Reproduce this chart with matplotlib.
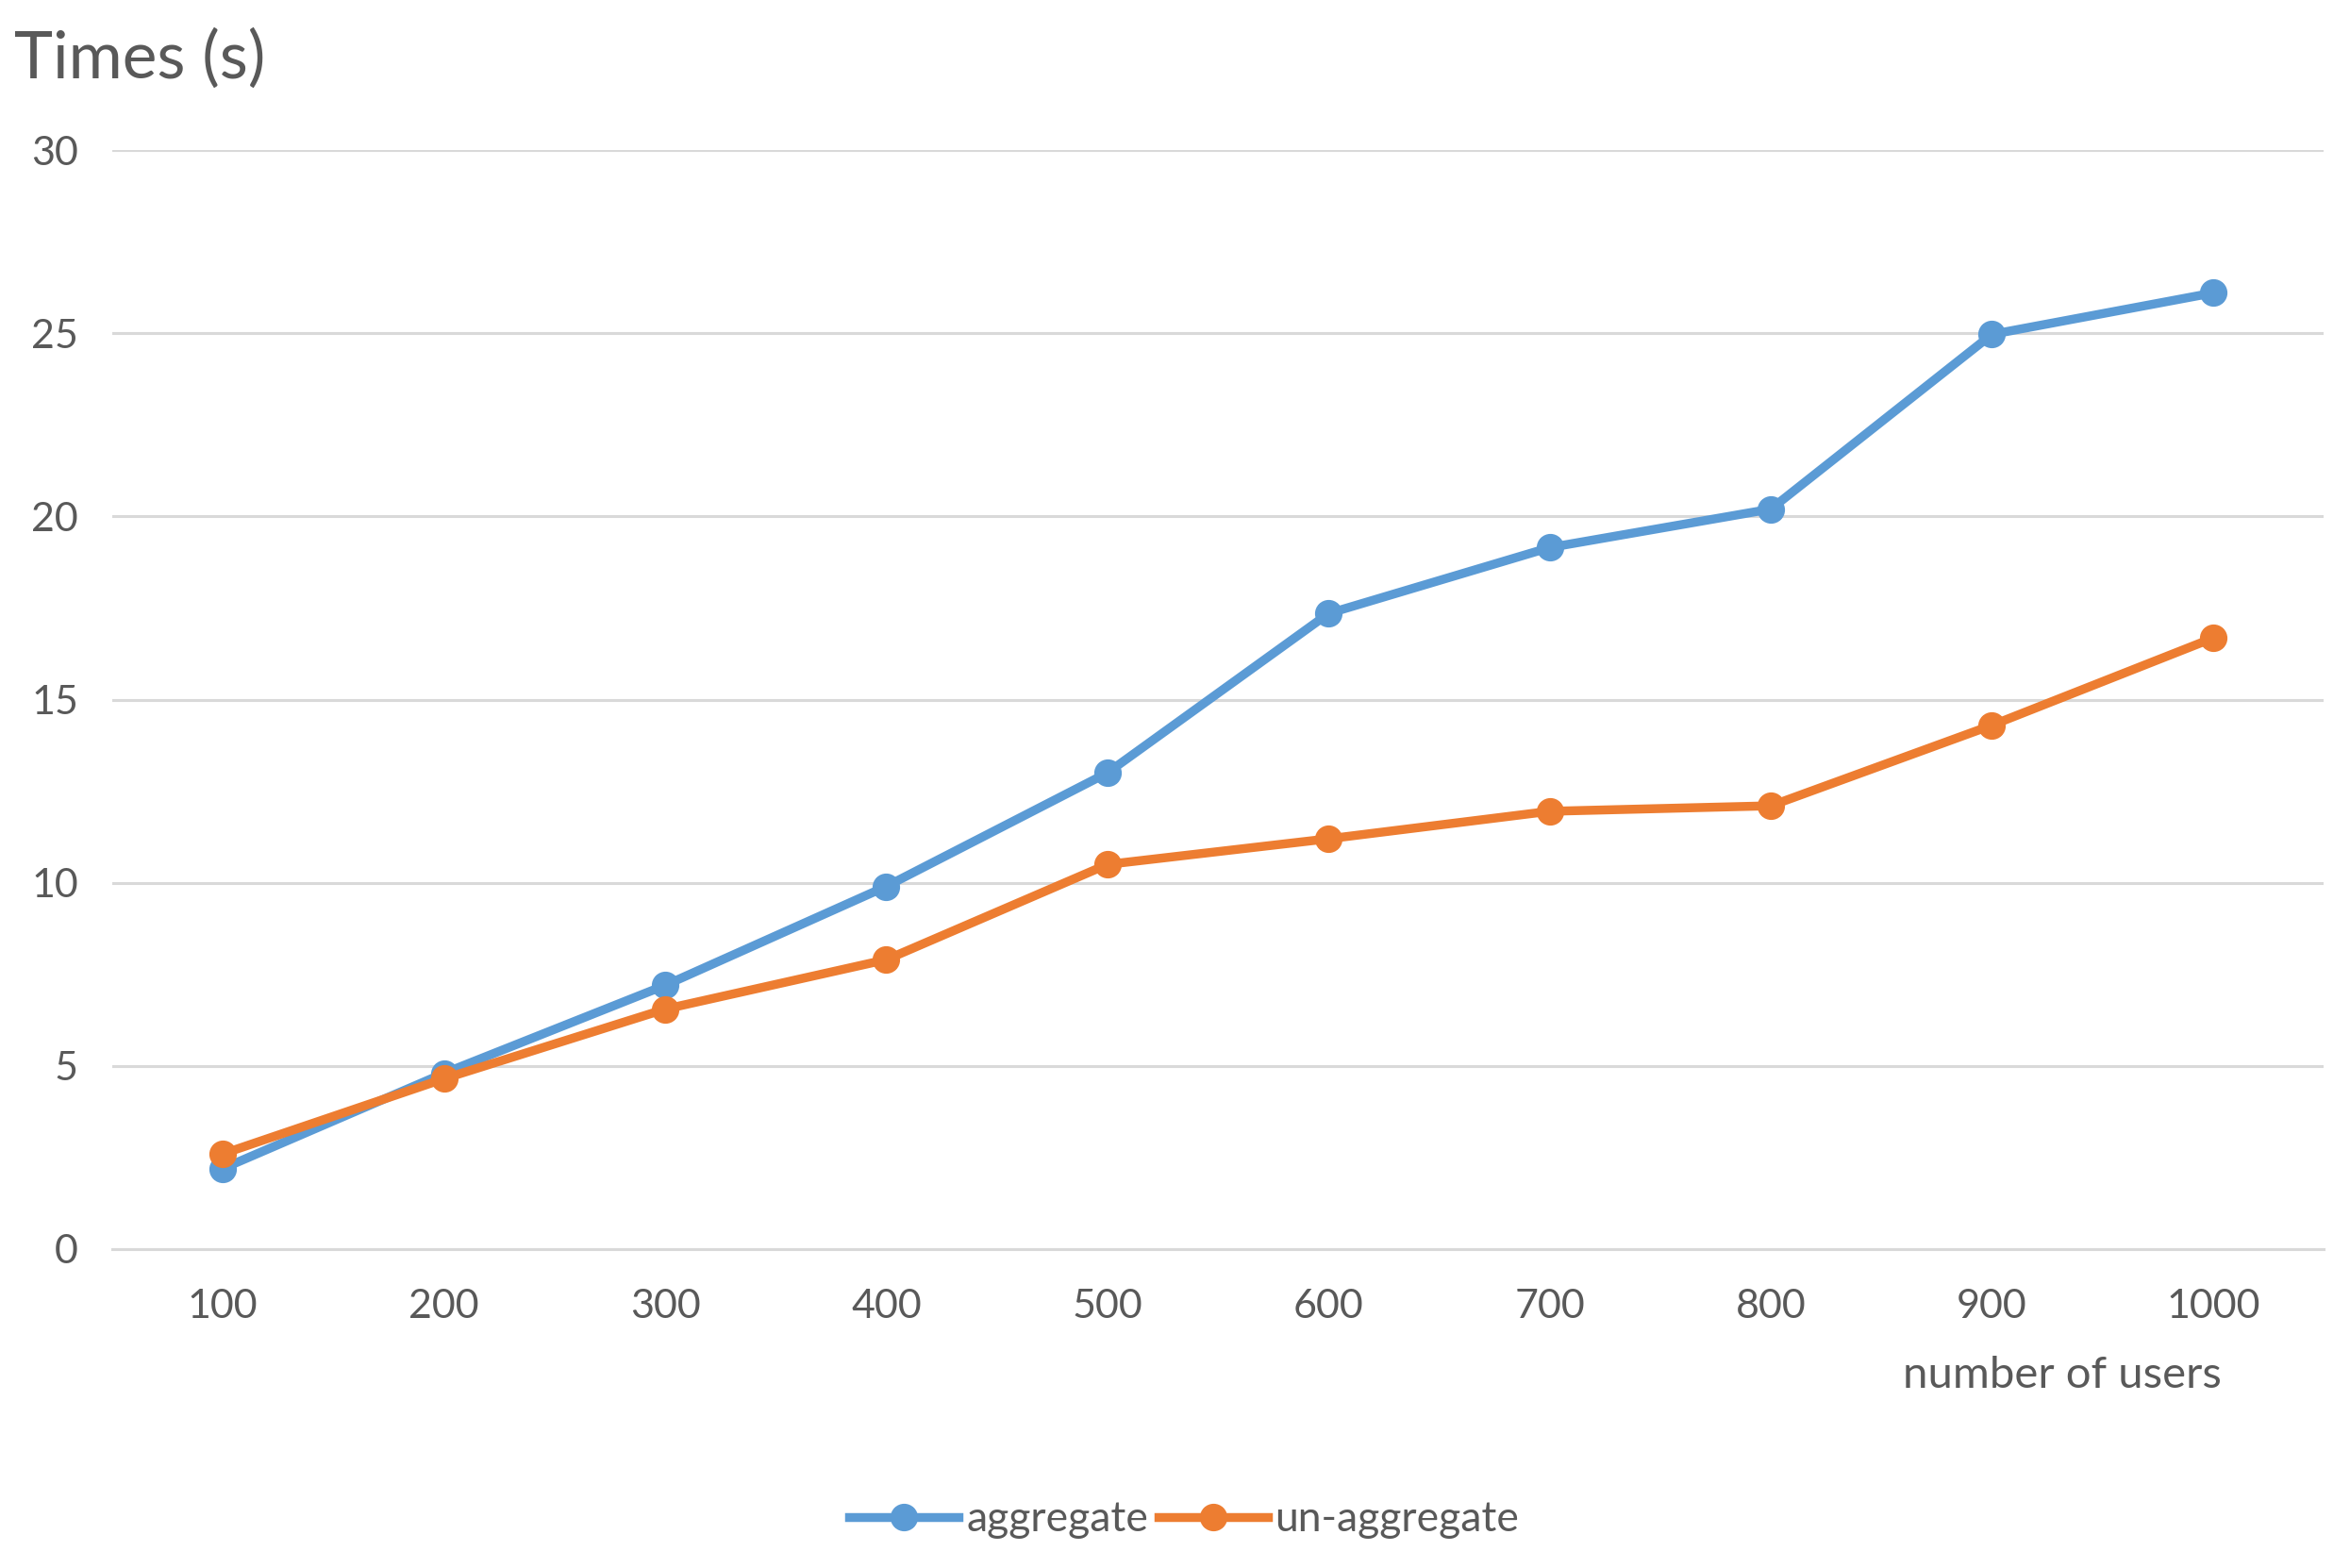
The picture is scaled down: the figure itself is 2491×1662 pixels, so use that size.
import matplotlib
matplotlib.use("Agg")
import matplotlib.pyplot as plt

categories = ["100", "200", "300", "400", "500", "600", "700", "800", "900", "1000"]
aggregate = [2.2, 4.8, 7.2, 9.9, 13.0, 17.35, 19.15, 20.2, 24.97, 26.1]
un_aggregate = [2.6, 4.65, 6.55, 7.9, 10.5, 11.2, 11.95, 12.1, 14.3, 16.68]
yticks = [0, 5, 10, 15, 20, 25, 30]

TEXT = "#595959"
GRID = "#d9d9d9"
BLUE = "#5B9BD5"
ORANGE = "#ED7D31"

plt.rcParams["font.family"] = ["Lato", "DejaVu Sans"]

fig = plt.figure(figsize=(24.91, 16.62), dpi=100)
ax = fig.add_axes([0.0478, 0.2034, 0.941, 0.7009])

x = list(range(len(categories)))
ax.plot(x, aggregate, color=BLUE, lw=6.8, marker="o", markersize=20,
        label="aggregate", solid_joinstyle="round", zorder=3)
ax.plot(x, un_aggregate, color=ORANGE, lw=6.8, marker="o", markersize=20,
        label="un-aggregate", solid_joinstyle="round", zorder=3)

ax.set_xlim(-0.5, len(categories) - 0.5)
ax.set_ylim(0, 30)
ax.set_yticks(yticks)
ax.set_xticks(x)
ax.set_xticklabels(categories)
ax.yaxis.grid(True, color=GRID, lw=2.2)
ax.set_axisbelow(True)
for s in ["top", "right", "left"]:
    ax.spines[s].set_visible(False)
ax.spines["bottom"].set_color(GRID)
ax.spines["bottom"].set_linewidth(2.2)
ax.tick_params(axis="both", length=0, labelsize=31, colors=TEXT)
ax.tick_params(axis="y", pad=26)
ax.tick_params(axis="x", pad=30)

fig.text(0.006, 0.950, "Times (s)", fontsize=50, color=TEXT, ha="left", va="baseline")
fig.text(0.8777, 0.1225, "number of users", fontsize=34, color=TEXT, ha="center", va="center")

leg = fig.legend(loc="center", bbox_to_anchor=(0.504, 0.0307), ncol=2, frameon=False,
                 fontsize=32, handlelength=2.6, handletextpad=0.18, columnspacing=0.25,
                 labelcolor=TEXT)

fig.savefig("out.png", dpi=100, facecolor="white")
